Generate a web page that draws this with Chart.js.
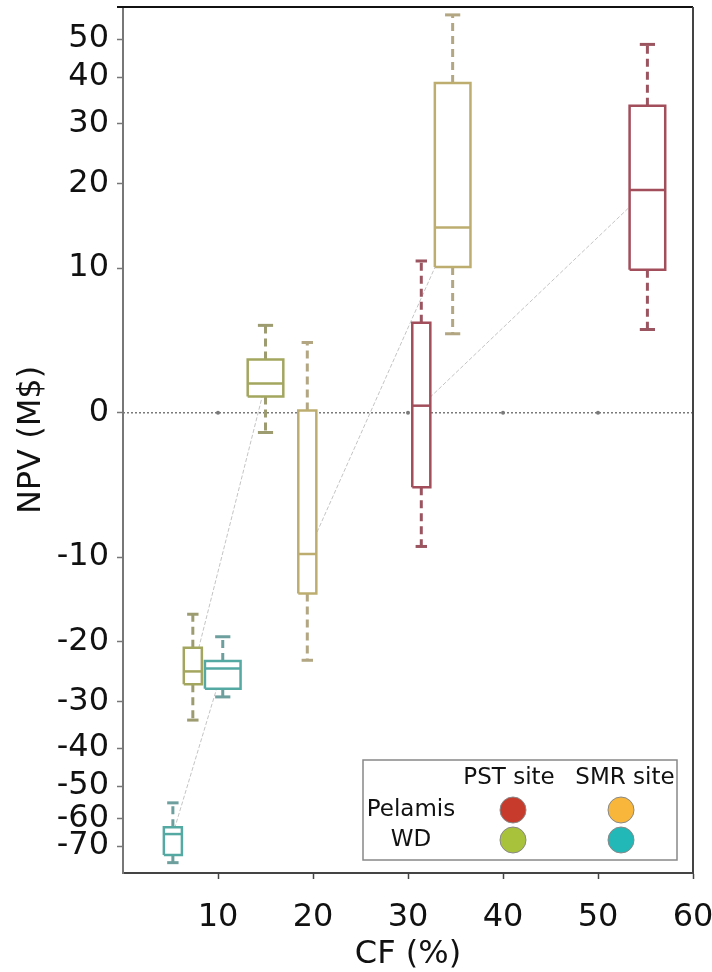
<!DOCTYPE html>
<html>
<head>
<meta charset="utf-8">
<script src="https://cdn.jsdelivr.net/npm/chart.js@4/dist/chart.umd.min.js"></script>
<style>
  html, body { margin: 0; padding: 0; background: #fff; }
</style>
</head>
<body>
<canvas id="myChart" width="712" height="972"></canvas>
<script>
// box plot values (CF in %, NPV in M$)
const boxCF     = [5.25, 7.35, 10.5, 15.0, 19.4, 31.4, 34.7, 55.2];
const whiskLow  = [-76.6, -33.7, -29.1, -1.0, -22.8, -9.0, 4.6, 4.9];
const boxQ1     = [-73.5, -26.8, -27.6, 0.8, -13.8, -4.3, 10.1, 9.85];
const boxMedian = [-65.5, -24.6, -24.1, 1.5, -9.7, 0.34, 14.3, 19.1];
const boxQ3     = [-63.1, -20.9, -22.9, 2.9, 0.1, 5.4, 38.6, 33.6];
const whiskHigh = [-55.0, -16.3, -19.3, 5.2, 4.0, 10.7, 57.4, 48.5];
const boxGroup  = [0, 1, 0, 1, 2, 3, 2, 3];

const xTicks = [10, 20, 30, 40, 50, 60];
const yTicks = [50, 40, 30, 20, 10, 0, -10, -20, -30, -40, -50, -60, -70];
const zeroLineX = [0, 10, 20, 30, 40, 50, 60];

const legendRows = ['Pelamis', 'WD'];
const legendCols = ['PST site', 'SMR site'];

// styles
const groupEdge  = ['#55a9a3', '#a3a65e', '#bdae70', '#a24e5b'];
const groupWhisk = ['#6c9f9d', '#9c9c70', '#b2a782', '#9b5560'];
const boxWidthCF = [1.9, 1.9, 3.75, 3.75, 1.9, 1.9, 3.75, 3.75];
const capWidthCF = [1.2, 1.2, 1.6, 1.6, 1.2, 1.2, 1.6, 1.6];
const legendColors = [['#c73b2c', '#f8b73b'], ['#a8c23c', '#22b8b8']];
const FONT = 'DejaVu Sans';

// symmetric log axis: sign(v) * ln(1 + |v| / 10)
const symlog = v => Math.sign(v) * Math.log(1 + Math.abs(v) / 10);
const symexp = t => Math.sign(t) * 10 * (Math.exp(Math.abs(t)) - 1);

class SymLogScale extends Chart.LinearScale {
  getPixelForValue(v) {
    const a = symlog(this.min), b = symlog(this.max);
    return this.getPixelForDecimal((symlog(v) - a) / (b - a));
  }
  getValueForPixel(p) {
    const a = symlog(this.min), b = symlog(this.max);
    return symexp(a + this.getDecimalForPixel(p) * (b - a));
  }
}
SymLogScale.id = 'symlog';
SymLogScale.defaults = Chart.LinearScale.defaults;
Chart.register(SymLogScale);

const seg = (data, color, width, dash, extra) => Object.assign({
  data: data, borderColor: color, borderWidth: width, borderDash: dash || [],
  pointRadius: 0, fill: false, tension: 0
}, extra || {});

const datasets = [];
boxCF.forEach((x, i) => {
  const c = groupEdge[boxGroup[i]], w = groupWhisk[boxGroup[i]];
  const hw = boxWidthCF[i] / 2, cw = capWidthCF[i] / 2;
  datasets.push(seg([{x: x - hw, y: boxMedian[i]}, {x: x + hw, y: boxMedian[i]}], c, 2.5));
  datasets.push(seg([
    {x: x - hw, y: boxQ1[i]}, {x: x + hw, y: boxQ1[i]}, {x: x + hw, y: boxQ3[i]},
    {x: x - hw, y: boxQ3[i]}, {x: x - hw, y: boxQ1[i]}
  ], c, 2.5, [], {fill: 'shape', backgroundColor: '#ffffff'}));
  datasets.push(seg([{x: x, y: boxQ3[i]}, {x: x, y: whiskHigh[i]}], w, 3, [8, 5]));
  datasets.push(seg([{x: x, y: boxQ1[i]}, {x: x, y: whiskLow[i]}], w, 3, [8, 5]));
  datasets.push(seg([{x: x - cw, y: whiskHigh[i]}, {x: x + cw, y: whiskHigh[i]}], w, 3));
  datasets.push(seg([{x: x - cw, y: whiskLow[i]}, {x: x + cw, y: whiskLow[i]}], w, 3));
});

// thin lines joining the two boxes of each group
[0, 1, 2, 3].forEach(g => {
  const idx = boxGroup.map((v, i) => v === g ? i : -1).filter(i => i >= 0);
  datasets.push(seg(idx.map(i => ({x: boxCF[i], y: boxMedian[i]})), '#c4c4c4', 1, [4, 2]));
});

// dotted zero line
datasets.push(seg(zeroLineX.map(x => ({x: x, y: 0})), '#7a7a7a', 1.5, [2, 2], {
  pointRadius: c => (c.raw && c.raw.x > 0 && c.raw.x < 60 ? 2 : 0),
  pointBackgroundColor: '#7a7a7a', pointBorderWidth: 0
}));

const framePlugin = {
  id: 'frame',
  afterDraw(chart) {
    const {ctx, chartArea: a} = chart;
    ctx.save();
    ctx.lineWidth = 2;
    ctx.strokeStyle = '#111';
    ctx.beginPath(); ctx.moveTo(a.left - 6, a.top); ctx.lineTo(a.right, a.top); ctx.stroke();
    ctx.strokeStyle = '#444';
    ctx.beginPath(); ctx.moveTo(a.right, a.top); ctx.lineTo(a.right, a.bottom); ctx.stroke();
    ctx.restore();
  }
};

const legendPlugin = {
  id: 'siteLegend',
  afterDraw(chart) {
    const {ctx, chartArea: a} = chart;
    const left = a.right - 330, top = a.bottom - 113, w = 314, h = 100;
    ctx.save();
    ctx.fillStyle = '#fff';
    ctx.fillRect(left, top, w, h);
    ctx.strokeStyle = '#888';
    ctx.lineWidth = 1.5;
    ctx.strokeRect(left, top, w, h);
    ctx.font = '23px "' + FONT + '"';
    ctx.fillStyle = '#111';
    ctx.textAlign = 'center';
    ctx.textBaseline = 'middle';
    const colX = [left + 150, left + 258];
    const rowY = [top + 50, top + 80];
    ctx.fillText(legendCols[0], left + 146, top + 18);
    ctx.fillText(legendCols[1], left + 262, top + 18);
    legendRows.forEach((t, r) => {
      ctx.fillStyle = '#111';
      ctx.fillText(t, left + 48, rowY[r]);
      legendColors[r].forEach((col, j) => {
        ctx.beginPath();
        ctx.arc(colX[j], rowY[r], 13, 0, Math.PI * 2);
        ctx.fillStyle = col;
        ctx.fill();
        ctx.strokeStyle = '#888';
        ctx.lineWidth = 1;
        ctx.stroke();
      });
    });
    ctx.restore();
  }
};

const ctx = document.getElementById('myChart').getContext('2d');
const myChart = new Chart(ctx, {
  type: 'line',
  data: { datasets: datasets },
  options: {
    responsive: false,
    animation: false,
    layout: { padding: { top: 7, right: 19, left: 0, bottom: 0 } },
    plugins: { legend: { display: false }, tooltip: { enabled: false } },
    scales: {
      x: {
        type: 'linear', min: 0, max: 60,
        afterBuildTicks: s => { s.ticks = xTicks.map(v => ({value: v})); },
        afterFit: s => { s.height = 99; s.paddingLeft = 0; s.paddingRight = 0; },
        grid: { drawOnChartArea: false, tickLength: 6, tickWidth: 1.5, tickColor: '#444' },
        border: { color: '#444', width: 2 },
        ticks: { font: { family: FONT, size: 32 }, color: '#111', padding: 19,
                 maxRotation: 0, autoSkip: false, callback: v => String(v) },
        title: { display: true, text: 'CF (%)', font: { family: FONT, size: 32, lineHeight: 1.1 },
                 color: '#111', padding: { top: 0, bottom: 0 } }
      },
      y: {
        type: 'symlog', min: -81, max: 60,
        afterBuildTicks: s => { s.ticks = yTicks.map(v => ({value: v})); },
        afterFit: s => { s.width = 123; s.paddingTop = 0; s.paddingBottom = 0; },
        grid: { drawOnChartArea: false, tickLength: 6, tickWidth: 1.5, tickColor: '#777' },
        border: { color: '#777', width: 2 },
        ticks: { font: { family: FONT, size: 32 }, color: '#111', padding: 8,
                 autoSkip: false, callback: v => String(v) },
        title: { display: true, text: 'NPV (M$)', font: { family: FONT, size: 32 },
                 color: '#111', padding: { top: 12 } }
      }
    }
  },
  plugins: [framePlugin, legendPlugin]
});

myChart.update();
</script>
</body>
</html>
